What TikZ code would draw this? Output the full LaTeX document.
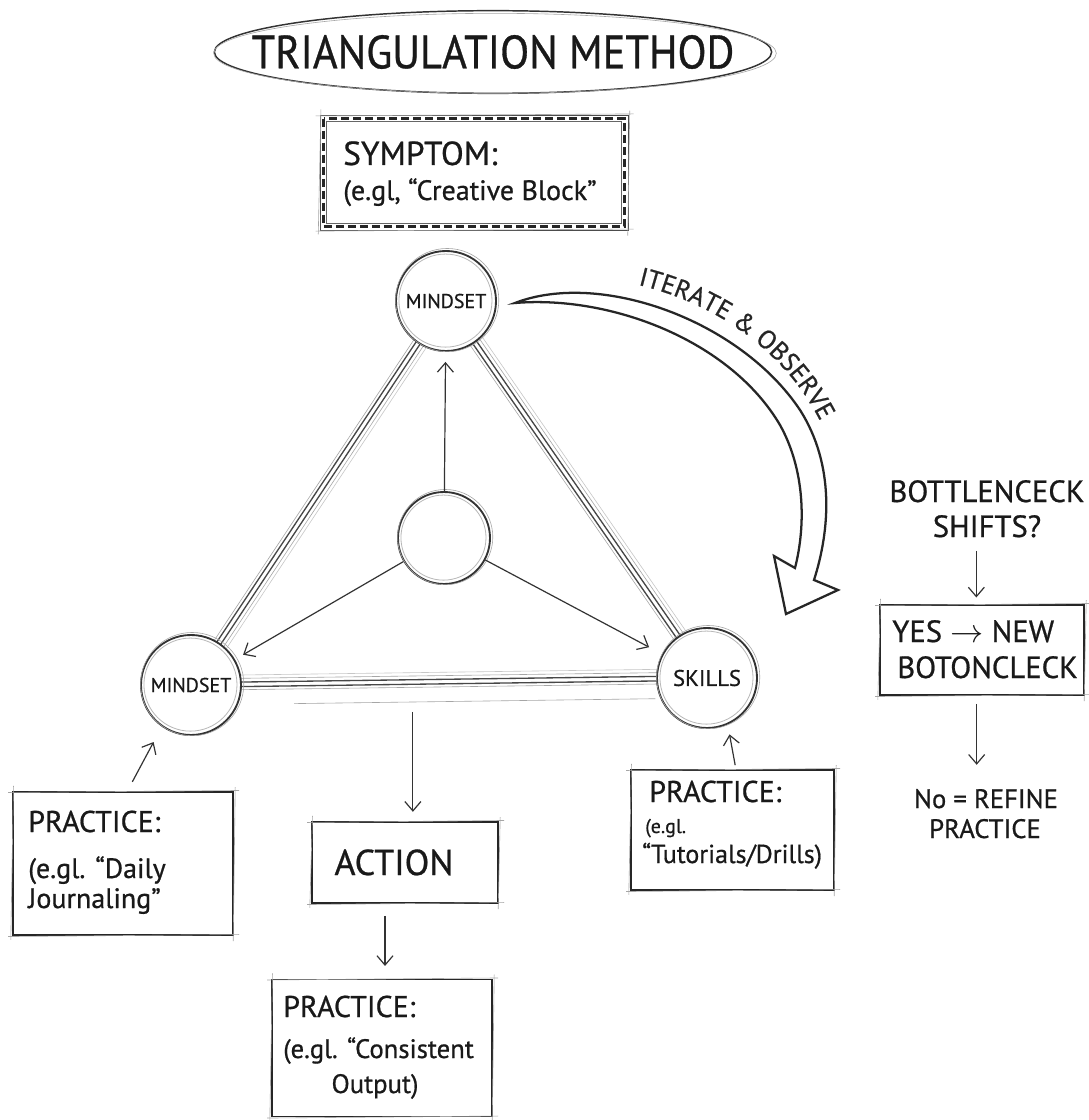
\documentclass[tikz,border=0pt]{standalone}
\usepackage{fontspec}
\setmainfont{PT Sans}[FakeBold=0.7]
\usepackage{graphicx}
\usetikzlibrary{arrows.meta,calc,shapes.geometric,decorations.text}
\newcommand\fsz[1]{\fontsize{#1}{#1}\selectfont}
\newcommand\skedge[2]{%
  \draw[edgedark] ($(#1)!1.7pt!90:(#2)$) -- ($(#2)!1.7pt!-90:(#1)$);
  \draw[edgedark] ($(#1)!1.7pt!-90:(#2)$) -- ($(#2)!1.7pt!90:(#1)$);
  \draw[ghost] ($(#1)!4.5pt!90:(#2)$) -- ($(#2)!4.5pt!-90:(#1)$);
  \draw[ghost] ($(#1)!4pt!-90:(#2)$) -- ($(#2)!4pt!90:(#1)$);
  \draw[ghost,draw=black!22] ($(#1)!7pt!90:(#2)$) -- ($(#2)!7pt!-90:(#1)$);
}
\newcommand\ghostbox[1]{%
  \draw[ghost] ([shift={(-3pt,-1pt)}]#1.north west) -- ([shift={(4pt,0.5pt)}]#1.north east);
  \draw[ghost] ([shift={(1pt,3pt)}]#1.north east) -- ([shift={(-0.5pt,-4pt)}]#1.south east);
  \draw[ghost] ([shift={(4pt,1pt)}]#1.south east) -- ([shift={(-3pt,-0.5pt)}]#1.south west);
  \draw[ghost] ([shift={(-1pt,-3pt)}]#1.south west) -- ([shift={(1pt,4pt)}]#1.north west);
}
\begin{document}
\begin{tikzpicture}[x=0.75pt,y=-0.75pt,
  ghost/.style={draw=black!35, line width=0.45pt},
  edgedark/.style={draw=black!72, line width=1pt},
  circ/.style={circle, draw=black!80, line width=1.4pt, fill=white, inner sep=0pt, text=black!90},
  boxst/.style={rectangle, draw=black!85, line width=1.3pt, fill=white, inner sep=0pt},
  lbl/.style={inner sep=0pt, text=black!90},
  arr/.style={-{Straight Barb[length=7pt,width=12pt]}, draw=black!80, line width=0.9pt}]
\useasboundingbox[fill=white] (0,0) rectangle (1088,1120);

% title
\node[lbl, font=\fsz{35pt}] (title) at (493,52) {\scalebox{0.91}[1]{TRIANGULATION METHOD}};
\draw[draw=black!80, line width=1.1pt] (title.center) ellipse [x radius=209pt, y radius=31pt];
\draw[ghost] ([shift={(1.5pt,-1pt)}]title.center) ellipse [x radius=211pt, y radius=30pt];

% symptom box
\node[rectangle, draw=black!70, line width=0.6pt, fill=white, minimum width=231pt, minimum height=86.25pt] (sym) at (474,172.5) {};
\draw[line width=2.2pt, dash pattern=on 6pt off 3pt, black!85] ([shift={(3pt,-3pt)}]sym.north west) rectangle ([shift={(-3pt,3pt)}]sym.south east);
\draw[draw=black!60, line width=0.5pt] ([shift={(5.4pt,-5.4pt)}]sym.north west) rectangle ([shift={(-5.4pt,5.4pt)}]sym.south east);
\ghostbox{sym}
\node[lbl, anchor=base west, font=\fsz{25pt}] (symA) at (343,165) {SYMPTOM:};
\node[lbl, anchor=base west, font=\fsz{21pt}] (symB) at (343,200) {(e.gl, “Creative Block”};

% triangle
\coordinate (tc) at (446,301);
\coordinate (lc) at (191,685);
\coordinate (rc) at (707,678);
\coordinate (cc) at (444,538);
\skedge{tc}{lc}
\skedge{tc}{rc}
\skedge{lc}{rc}
\draw[ghost] ($(lc)!0.2!(rc)+(0,20)$) -- ($(lc)!0.9!(rc)+(0,20)$);

\node[circ, minimum size=75pt, font=\fsz{15pt}] (t) at (tc) {MINDSET};
\node[circ, minimum size=75pt, font=\fsz{15pt}] (l) at (lc) {MINDSET};
\node[circ, minimum size=75pt, font=\fsz{17pt}] (r) at (rc) {SKILLS};
\node[circ, minimum size=69pt] (c) at (cc) {};
\foreach \n/\rr in {t/37.5,l/37.5,r/37.5,c/34.5}{
  \draw[ghost] ([shift={(0.9pt,0.7pt)}]\n.center) circle [radius=\rr pt+1.2pt];
  \draw[draw=black!28, line width=0.6pt] ([shift={(-0.4pt,0.3pt)}]\n.center) circle [radius=\rr pt-2.6pt];
}

\draw[arr, shorten >=7.5pt] (c) -- (t);
\draw[arr, shorten >=7pt] (c) -- (l);
\draw[arr, shorten >=11pt] (c) -- (r);

% iterate arrow
\draw[line width=1.7pt, draw=black!85, fill=white, line join=miter]
  (515,303) .. controls (600,270) and (740,320) .. (800,410)
  .. controls (835,465) and (830,530) .. (814,580)
  -- (838,590) -- (786,614) -- (774,556) -- (795,568)
  .. controls (806,525) and (805,470) .. (780,425)
  .. controls (730,340) and (610,295) .. (515,303) -- cycle;
\path[decorate, decoration={text along path, text align=center,
  text={|\fsz{19.5pt}\color{black!85}|ITERATE {\&} OBSERVE}}]
  (620,281) .. controls (712,298) and (792,352) .. (828,438);

% practice boxes
\node[boxst, minimum width=165pt, minimum height=107.25pt] (lp) at (123,863.5) {};
\ghostbox{lp}
\node[lbl, anchor=base west, font=\fsz{22.5pt}] (lpA) at (28,832) {PRACTICE:};
\node[lbl, anchor=base west, font=\fsz{21pt}] (lpB) at (28,878) {(e.gl. “Daily};
\node[lbl, anchor=base west, font=\fsz{21pt}] (lpC) at (28,908) {Journaling”};

\node[boxst, minimum width=139.5pt, minimum height=60.75pt] (act) at (405,862.5) {};
\ghostbox{act}
\node[lbl, anchor=base, font=\fsz{27pt}] (actT) at (394,875) {ACTION};

\node[boxst, minimum width=165pt, minimum height=102.75pt] (bp) at (382,1048) {};
\ghostbox{bp}
\node[lbl, anchor=base west, font=\fsz{22.5pt}] (bpA) at (283,1017) {PRACTICE:};
\node[lbl, anchor=base west, font=\fsz{20pt}] (bpB) at (283,1058) {(e.gl. “Consistent};
\node[lbl, anchor=base, font=\fsz{20pt}] (bpC) at (375,1093) {Output)};

\node[boxst, minimum width=152.25pt, minimum height=90pt] (rp) at (732.5,830) {};
\ghostbox{rp}
\node[lbl, anchor=base west, font=\fsz{22.5pt}] (rpA) at (649,802) {PRACTICE:};
\node[lbl, anchor=base west, font=\fsz{15pt}] (rpB) at (645,833) {(e.gl.};
\node[lbl, anchor=base west, font=\fsz{19.5pt}] (rpC) at (642,863) {“Tutorials/Drills)};

% connectors to boxes
\coordinate (bmid) at ($(lc)!0.43!(rc)+(0,30)$);
\draw[arr, shorten >=7pt] (bmid) -- (bmid |- act.north);
\draw[arr, shorten <=9pt, shorten >=9.5pt] ([xshift=-15pt]act.south) -- ([xshift=-15pt]act.south |- bp.north);
\draw[arr, shorten >=13pt] ([xshift=7pt,yshift=7pt]lp.north) -- (l.235);
\draw[arr, shorten >=7.5pt] ([xshift=2pt,yshift=3pt]rp.north) -- (r.294);

% bottleneck column
\node[lbl, anchor=base, font=\fsz{23pt}] (bqA) at (987,502) {BOTTLENCECK};
\node[lbl, anchor=base, font=\fsz{23pt}] (bqB) at (987,537) {SHIFTS?};
\node[boxst, minimum width=153pt, minimum height=67.5pt] (yes) at (982,650) {};
\ghostbox{yes}
\node[lbl, anchor=base west, font=\fsz{23pt}] (yesA) at (892,642) {YES $\rightarrow$ NEW};
\node[lbl, anchor=base west, font=\fsz{23pt}] (yesB) at (897,678) {BOTONCLECK};
\node[lbl, anchor=base, font=\fsz{20pt}] (noA) at (986,808) {No = REFINE};
\node[lbl, anchor=base, font=\fsz{20pt}] (noB) at (985,838) {PRACTICE};
\draw[arr, shorten <=10pt, shorten >=5pt] ([xshift=-8pt]bqB.south) -- ([xshift=-8pt]bqB.south |- yes.north);
\draw[arr, shorten <=6pt, shorten >=18pt] ([xshift=-4pt]yes.south) -- ([xshift=-4pt]yes.south |- noA.north);
\end{tikzpicture}
\end{document}
